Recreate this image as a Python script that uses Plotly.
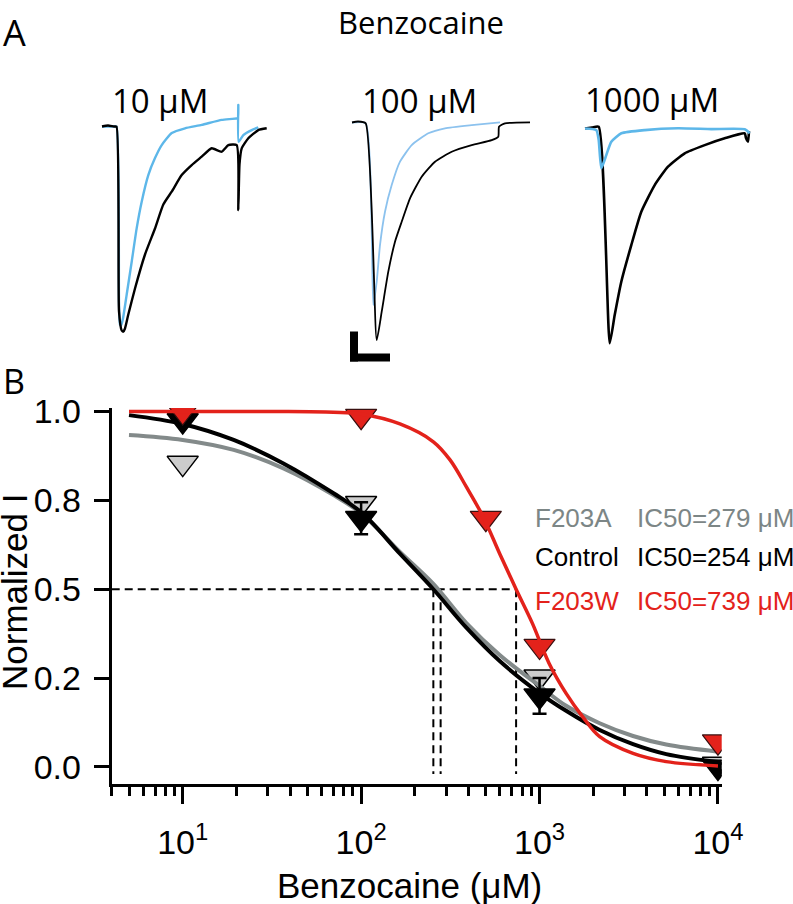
import plotly.graph_objects as go

W, H = 793, 904

# ---------------- Panel B data ----------------
CONC = [10, 100, 1000, 10000]
CONTROL_Y = [0.975, 0.70, 0.20, 0.0]
CONTROL_ERR = [0.01, 0.045, 0.05, 0.01]
F203A_Y = [0.855, 0.742, 0.254, 0.008]
F203W_CONC = [10, 100, 500, 1000, 10000]
F203W_Y = [1.0, 0.987, 0.70, 0.34, 0.071]

FIT_X = [5, 10, 19.3, 36.7, 70, 101, 165, 254, 389, 598, 1000, 1409, 2173, 3342, 5129, 10000]
FIT_CONTROL = [0.99, 0.965, 0.92, 0.854, 0.77, 0.715, 0.60, 0.5, 0.392, 0.298, 0.208, 0.158, 0.104, 0.064, 0.036, 0.014]
FIT_F203A = [0.934, 0.92, 0.892, 0.84, 0.765, 0.712, 0.605, 0.515, 0.405, 0.315, 0.228, 0.172, 0.123, 0.087, 0.063, 0.043]
FIT_X_W = [5, 10, 20, 35, 70, 100, 165, 254, 315, 389, 483, 598, 739, 912, 1130, 1409, 1746, 2173, 3342, 5129, 10000]
FIT_F203W = [1.0, 1.0, 1.0, 1.0, 0.998, 0.993, 0.965, 0.915, 0.864, 0.788, 0.704, 0.60, 0.5, 0.404, 0.292, 0.207, 0.141, 0.085, 0.038, 0.015, 0.003]

IC50 = {"F203A": 279, "Control": 254, "F203W": 739}
HALF = 0.5

X_TICKS = [10, 100, 1000, 10000]
X_TICKTEXT = ["10<sup>1</sup>", "10<sup>2</sup>", "10<sup>3</sup>", "10<sup>4</sup>"]
Y_TICKS = [0, 0.25, 0.5, 0.75, 1.0]
Y_TICKTEXT = ["0.0", "0.2", "0.5", "0.8", "1.0"]

# ---------------- Panel A data (ms, nA) ----------------
T1_BLACK = [0, 0.6, 1.2, 1.45, 1.7, 1.97, 2.13, 2.3, 2.63, 3.3, 4.3, 5.3, 6.13, 6.97, 7.97, 8.97, 9.97, 10.97, 11.97, 12.63, 13.47, 13.63, 13.75, 13.97, 14.63, 15.63, 16.47]
I1_BLACK = [0, 0.05, 0, 0, -9.25, -10.2, -10.26, -10.1, -9.4, -8.1, -6.4, -5.1, -3.9, -3.26, -2.43, -1.93, -1.51, -1.09, -1.26, -0.93, -0.93, -4.18, -1.9, -1.09, -0.59, -0.18, -0.09]
T1_BLUE = [0, 1.2, 1.45, 1.7, 1.8, 1.9, 2.1, 2.47, 2.97, 3.47, 3.97, 4.63, 5.3, 5.97, 6.97, 8.3, 9.97, 11.97, 13.47, 13.6, 13.63, 13.66, 14.13, 14.97, 15.63]
I1_BLUE = [0, 0, 0, -8.8, -9.9, -9.95, -9.6, -8.4, -6.76, -5.08, -3.76, -2.43, -1.58, -0.93, -0.33, -0.09, 0.08, 0.33, 0.41, 0.45, 1.08, -0.76, -0.43, -0.18, -0.04]

T2_BLACK = [0, 0.6, 1.37, 2.47, 2.97, 3.63, 4.3, 4.97, 5.8, 6.97, 8.3, 9.97, 11.97, 13.97, 14.63, 14.7, 15.3, 17.8]
I2_BLACK = [0, 0.05, -0.04, -10.88, -9.46, -7.46, -5.96, -4.96, -3.79, -2.71, -1.96, -1.46, -1.13, -0.88, -0.71, -0.21, -0.04, 0.01]
T2_BLUE = [0, 1.37, 2.13, 2.47, 2.8, 3.3, 3.97, 4.8, 5.97, 7.63, 9.3, 11.97, 14.8]
I2_BLUE = [0, -0.04, -9.13, -7.96, -6.13, -4.46, -3.13, -1.96, -1.13, -0.54, -0.29, -0.13, 0.01]

T3_BLACK = [0, 0.7, 1.37, 2.47, 2.97, 3.63, 4.63, 5.63, 6.97, 8.3, 9.97, 11.97, 13.97, 15.97, 16.1, 16.3, 16.4]
I3_BLACK = [0, 0.05, 0.09, -10.74, -9.33, -7.66, -5.83, -4.16, -2.83, -1.91, -1.24, -0.83, -0.49, -0.24, -0.48, -0.66, -0.13]
T3_BLUE = [0, 1.13, 1.37, 1.63, 2.13, 2.63, 3.63, 5.97, 9.3, 12.63, 15.97, 16.47]
I3_BLUE = [0, -0.08, -0.58, -1.99, -1.33, -0.66, -0.24, -0.08, 0.01, -0.03, -0.04, -0.24]

DOSES_A = ["10 μM", "100 μM", "1000 μM"]
SCALE_MS = 4
SCALE_NA = 1.5

RED = "#E3221B"
GRAY_LINE = "#838A8A"
GRAY_TEXT = "#7C8686"
GRAY_FILL = "#CCCCCC"
BLUE = "#5DB7E9"
BLUE2 = "#8CC2EE"

AR = "Liberation Sans, Arial, sans-serif"
OS = "Open Sans, sans-serif"
MSIZE = 27


def px_x(p):
    return p / W


def px_y(p):
    return 1 - p / H


fig = go.Figure()

# dashed IC50 guides
for name in ["Control", "F203A", "F203W"]:
    fig.add_trace(go.Scatter(x=[IC50[name], IC50[name]], y=[HALF, -0.02], mode="lines",
                             line=dict(color="black", width=2, dash="8px,5px"), hoverinfo="skip",
                             showlegend=False, xaxis="x", yaxis="y"))
fig.add_trace(go.Scatter(x=[4, IC50["F203W"]], y=[HALF, HALF], mode="lines",
                         line=dict(color="black", width=2, dash="8px,5px"), hoverinfo="skip",
                         showlegend=False, xaxis="x", yaxis="y"))

# F203A
fig.add_trace(go.Scatter(x=CONC, y=F203A_Y, mode="markers",
                         marker=dict(symbol="triangle-down", size=MSIZE, color=GRAY_FILL,
                                     line=dict(color="black", width=1.5)),
                         showlegend=False, xaxis="x", yaxis="y"))
fig.add_trace(go.Scatter(x=FIT_X, y=FIT_F203A, mode="lines", line=dict(color=GRAY_LINE, width=4, shape="spline"),
                         showlegend=False, xaxis="x", yaxis="y"))
# Control
fig.add_trace(go.Scatter(x=CONC, y=CONTROL_Y, mode="markers",
                         error_y=dict(type="data", array=CONTROL_ERR, color="black", thickness=2.5, width=7),
                         marker=dict(symbol="triangle-down", size=MSIZE, color="black",
                                     line=dict(color="black", width=1.5)),
                         showlegend=False, xaxis="x", yaxis="y"))
fig.add_trace(go.Scatter(x=FIT_X, y=FIT_CONTROL, mode="lines", line=dict(color="black", width=4, shape="spline"),
                         showlegend=False, xaxis="x", yaxis="y"))
# F203W
fig.add_trace(go.Scatter(x=F203W_CONC, y=F203W_Y, mode="markers",
                         marker=dict(symbol="triangle-down", size=MSIZE, color=RED,
                                     line=dict(color="#3a1010", width=1.2)),
                         showlegend=False, xaxis="x", yaxis="y"))
fig.add_trace(go.Scatter(x=FIT_X_W, y=FIT_F203W, mode="lines", line=dict(color=RED, width=3.5, shape="spline"),
                         showlegend=False, xaxis="x", yaxis="y"))

# ---------------- Panel A traces ----------------
SM = 0.5
fig.add_trace(go.Scatter(x=T1_BLUE, y=I1_BLUE, mode="lines", line=dict(color=BLUE, width=2.4, shape="spline", smoothing=SM),
                         showlegend=False, xaxis="x2", yaxis="y2"))
fig.add_trace(go.Scatter(x=T1_BLACK, y=I1_BLACK, mode="lines", line=dict(color="black", width=2.4, shape="spline", smoothing=SM),
                         showlegend=False, xaxis="x2", yaxis="y2"))
fig.add_trace(go.Scatter(x=T2_BLUE, y=I2_BLUE, mode="lines", line=dict(color=BLUE2, width=1.8, shape="spline", smoothing=SM),
                         showlegend=False, xaxis="x3", yaxis="y3"))
fig.add_trace(go.Scatter(x=T2_BLACK, y=I2_BLACK, mode="lines", line=dict(color="black", width=1.8, shape="spline", smoothing=SM),
                         showlegend=False, xaxis="x3", yaxis="y3"))
fig.add_trace(go.Scatter(x=T3_BLACK, y=I3_BLACK, mode="lines", line=dict(color="black", width=2.6, shape="spline", smoothing=SM),
                         showlegend=False, xaxis="x4", yaxis="y4"))
fig.add_trace(go.Scatter(x=T3_BLUE, y=I3_BLUE, mode="lines", line=dict(color=BLUE, width=2.6, shape="spline", smoothing=SM),
                         showlegend=False, xaxis="x4", yaxis="y4"))

# scale bar (panel 2 axes)
sb_x0, sb_y0 = -0.2, -11.95
shapes = [
    dict(type="rect", xref="x3", yref="y3", x0=sb_x0, x1=sb_x0 + 0.8, y0=sb_y0, y1=sb_y0 + SCALE_NA,
         fillcolor="black", line=dict(width=0)),
    dict(type="rect", xref="x3", yref="y3", x0=sb_x0, x1=sb_x0 + SCALE_MS, y0=sb_y0, y1=sb_y0 + 0.4,
         fillcolor="black", line=dict(width=0)),
]

hidden = dict(visible=False, fixedrange=True, automargin=False)

layout = dict(
    template="none",
    width=W, height=H, autosize=False,
    margin=dict(l=0, r=0, t=0, b=0, pad=0, autoexpand=False),
    paper_bgcolor="white", plot_bgcolor="white",
    showlegend=False,
    xaxis=dict(type="log", range=[0.602, 4.021], domain=[px_x(111.7), px_x(721.7)], anchor="y", automargin=False,
               showline=True, linewidth=3, linecolor="black", showgrid=False, zeroline=False,
               ticks="outside", ticklen=17, tickwidth=3, tickcolor="black",
               tickmode="array", tickvals=X_TICKS, ticktext=X_TICKTEXT,
               tickfont=dict(family=AR, size=34, color="black"), ticklabelstandoff=9,
               minor=dict(ticks="outside", ticklen=9, tickwidth=2.5, tickcolor="black", dtick="D1", showgrid=False)),
    yaxis=dict(range=[-0.048, 1.01], domain=[px_y(784), px_y(408)], anchor="x", automargin=False,
               showline=True, linewidth=3, linecolor="black", showgrid=False, zeroline=False,
               ticks="outside", ticklen=15, tickwidth=3, tickcolor="black",
               tickmode="array", tickvals=Y_TICKS, ticktext=Y_TICKTEXT,
               tickfont=dict(family=AR, size=34, color="black"), ticklabelstandoff=6),
    xaxis2=dict(range=[-0.7, 17.3], domain=[px_x(95), px_x(275)], anchor="y2", **hidden),
    yaxis2=dict(range=[-10.925, 1.575], domain=[px_y(345), px_y(95)], anchor="x2", **hidden),
    xaxis3=dict(range=[-0.7, 18.3], domain=[px_x(345), px_x(535)], anchor="y3", **hidden),
    yaxis3=dict(range=[-12.125, 1.375], domain=[px_y(365), px_y(95)], anchor="x3", **hidden),
    xaxis4=dict(range=[-0.7, 17.3], domain=[px_x(578), px_x(758)], anchor="y4", **hidden),
    yaxis4=dict(range=[-11.325, 1.675], domain=[px_y(355), px_y(95)], anchor="x4", **hidden),
    shapes=shapes,
)
fig.update_layout(**layout)

ann = []


def add_text(text, x, y, size, family, color="black", xanchor="center", angle=0):
    ann.append(dict(text=text, x=px_x(x), y=px_y(y), xref="paper", yref="paper", showarrow=False,
                    xanchor=xanchor, yanchor="middle", textangle=angle,
                    font=dict(family=family, size=size, color=color)))


add_text("A", 14, 33, 36, OS)
add_text("B", 14, 381, 34, OS)
add_text("Benzocaine", 421, 22, 31, OS)
add_text(DOSES_A[0], 160, 100, 33, OS)
add_text(DOSES_A[1], 420, 100, 33, OS)
add_text(DOSES_A[2], 652, 99, 33, OS)

add_text("F203A", 533, 518, 26, AR, GRAY_TEXT, "left")
add_text("IC50=%d μM" % IC50["F203A"], 635, 518, 26, AR, GRAY_TEXT, "left")
add_text("Control", 533, 557, 26, AR, "black", "left")
add_text("IC50=%d μM" % IC50["Control"], 635, 557, 26, AR, "black", "left")
add_text("F203W", 533, 601, 26, AR, RED, "left")
add_text("IC50=%d μM" % IC50["F203W"], 635, 601, 26, AR, RED, "left")

add_text("Normalized I", 14, 592, 35, AR, angle=-90)
add_text("Benzocaine (μM)", 409, 885, 35, AR)

fig.update_layout(annotations=ann)

fig.write_html("out.html", config={"displayModeBar": False},
               post_script="document.body.style.margin='0';document.body.style.overflow='hidden';")
